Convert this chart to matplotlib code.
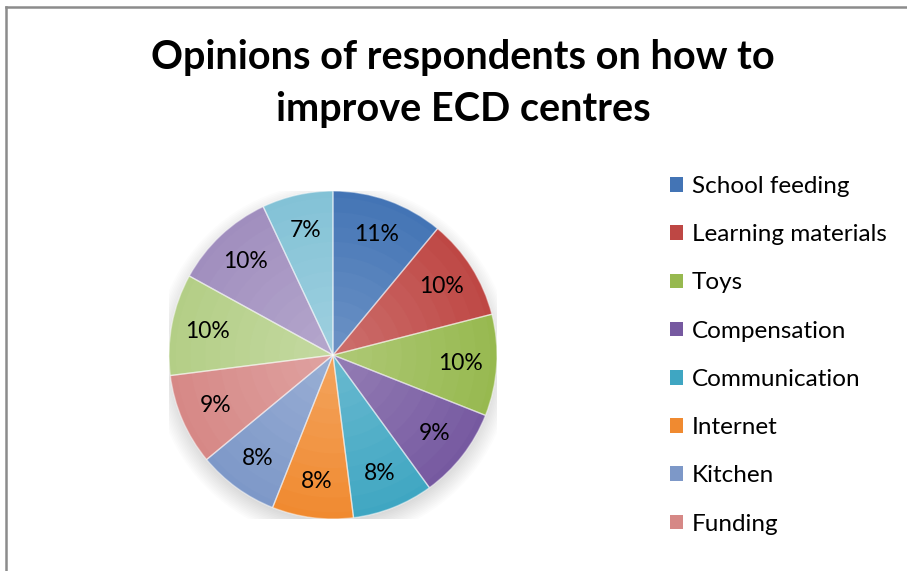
import numpy as np
import matplotlib.pyplot as plt
from matplotlib.lines import Line2D
from matplotlib.patches import Circle
from matplotlib.colors import to_rgb

plt.rcParams['font.family'] = ['Lato', 'DejaVu Sans']

# legend names (only the first eight fit in the legend box)
categories = ['School feeding', 'Learning materials', 'Toys', 'Compensation',
              'Communication', 'Internet', 'Kitchen', 'Funding']
shares = [11, 10, 10, 9, 8, 8, 8, 9, 10, 10, 7]
colors = ['#4374B5', '#BE4744', '#97B94F', '#7659A0', '#3FA6C2', '#F08A30',
          '#7D98C8', '#D68886', '#B3CE86', '#A08EBE', '#83C2D6']

fig = plt.figure(figsize=(9.07, 5.71), dpi=100)
W, H = 907, 571

# outer chart frame (left and top edges)
for xs, ys in [([6, 6], [0, H - 7]), ([6, W - 1], [H - 7, H - 7])]:
    fig.add_artist(Line2D(np.array(xs) / W, np.array(ys) / H,
                          transform=fig.transFigure, color='#8c8c8c', lw=1.8))

fig.text(463 / W, 1 - 57 / H, 'Opinions of respondents on how to',
         ha='center', va='center', fontsize=28.5, fontweight='bold')
fig.text(463 / W, 1 - 109 / H, 'improve ECD centres',
         ha='center', va='center', fontsize=28.5, fontweight='bold')

cx, cy, r = 333, 355, 164
ax = fig.add_axes([(cx - r) / W, 1 - (cy + r) / H, 2 * r / W, 2 * r / H])

# soft shadow below the pie
for i in range(12):
    ax.add_patch(Circle((0, -0.04), 0.98 + 0.01 * i, color='black',
                        alpha=0.013, zorder=0, lw=0))

wedges, _, autotexts = ax.pie(shares, colors=colors, startangle=90,
                              counterclock=False, radius=1.0,
                              autopct='%1.0f%%', pctdistance=0.78,
                              wedgeprops=dict(edgecolor='none'),
                              textprops=dict(fontsize=16.5, color='black'))

# gentle radial shading: slightly lighter toward the middle
for k in range(10):
    rad = 0.96 - 0.09 * k
    f = 0.02 * (k + 1)
    shade = [tuple(np.array(to_rgb(c)) * (1 - f) + f) for c in colors]
    ax.pie(shares, colors=shade, startangle=90, counterclock=False,
           radius=rad, wedgeprops=dict(edgecolor='none'))
ax.pie(shares, startangle=90, counterclock=False, radius=1.0,
       wedgeprops=dict(edgecolor=(1, 1, 1, 0.45), linewidth=1.0, fill=False))
for t in autotexts:
    t.set_zorder(10)

ax.set_xlim(-1, 1)
ax.set_ylim(-1, 1)
ax.set_aspect('equal')
ax.axis('off')

leg = fig.legend(wedges[:len(categories)], categories,
                 loc='upper left', bbox_to_anchor=(670 / W, 1 - 176 / H),
                 frameon=False, fontsize=17.5, handlelength=0.55,
                 handleheight=0.55, handletextpad=0.35, labelspacing=1.12,
                 borderpad=0, borderaxespad=0)

fig.savefig('out.png', dpi=100)
